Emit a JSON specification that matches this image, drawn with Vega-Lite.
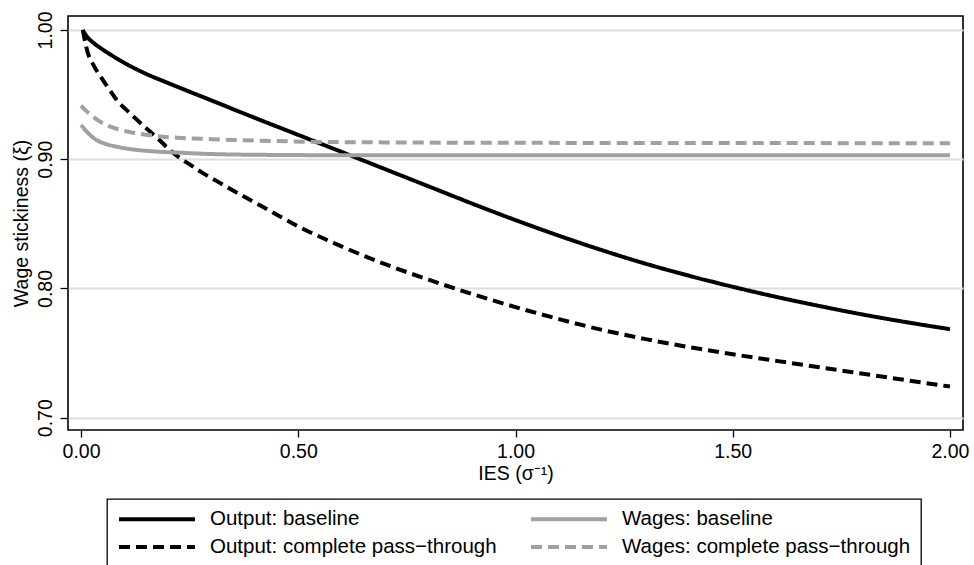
{
  "$schema": "https://vega.github.io/schema/vega-lite/v6.json",
  "autosize": {"type": "none"},
  "padding": {"left": 68, "top": 16, "right": 11, "bottom": 135},
  "width": 895,
  "height": 414,
  "background": "white",
  "config": {
    "font": "Liberation Sans",
    "view": {"stroke": "black", "strokeWidth": 1.6}
  },
  "data": {
    "values": [
      {"series": "Output: baseline", "ies": 0.004, "xi": 1.0},
      {"series": "Output: baseline", "ies": 0.012, "xi": 0.9955},
      {"series": "Output: baseline", "ies": 0.025, "xi": 0.991},
      {"series": "Output: baseline", "ies": 0.045, "xi": 0.986},
      {"series": "Output: baseline", "ies": 0.07, "xi": 0.9805},
      {"series": "Output: baseline", "ies": 0.1, "xi": 0.9745},
      {"series": "Output: baseline", "ies": 0.15, "xi": 0.966},
      {"series": "Output: baseline", "ies": 0.2, "xi": 0.959},
      {"series": "Output: baseline", "ies": 0.3, "xi": 0.9455},
      {"series": "Output: baseline", "ies": 0.4, "xi": 0.932},
      {"series": "Output: baseline", "ies": 0.5, "xi": 0.9188},
      {"series": "Output: baseline", "ies": 0.6, "xi": 0.9056},
      {"series": "Output: baseline", "ies": 0.7, "xi": 0.8923},
      {"series": "Output: baseline", "ies": 0.8, "xi": 0.879},
      {"series": "Output: baseline", "ies": 0.9, "xi": 0.8657},
      {"series": "Output: baseline", "ies": 1.0, "xi": 0.8529},
      {"series": "Output: baseline", "ies": 1.1, "xi": 0.8408},
      {"series": "Output: baseline", "ies": 1.2, "xi": 0.8295},
      {"series": "Output: baseline", "ies": 1.3, "xi": 0.8191},
      {"series": "Output: baseline", "ies": 1.4, "xi": 0.8098},
      {"series": "Output: baseline", "ies": 1.5, "xi": 0.8013},
      {"series": "Output: baseline", "ies": 1.6, "xi": 0.7935},
      {"series": "Output: baseline", "ies": 1.7, "xi": 0.7864},
      {"series": "Output: baseline", "ies": 1.8, "xi": 0.7798},
      {"series": "Output: baseline", "ies": 1.9, "xi": 0.7739},
      {"series": "Output: baseline", "ies": 2.0, "xi": 0.7685},
      {"series": "Output: complete pass−through", "ies": 0.004, "xi": 1.0},
      {"series": "Output: complete pass−through", "ies": 0.015, "xi": 0.983},
      {"series": "Output: complete pass−through", "ies": 0.03, "xi": 0.972},
      {"series": "Output: complete pass−through", "ies": 0.047, "xi": 0.963},
      {"series": "Output: complete pass−through", "ies": 0.065, "xi": 0.954},
      {"series": "Output: complete pass−through", "ies": 0.085, "xi": 0.9446},
      {"series": "Output: complete pass−through", "ies": 0.105, "xi": 0.938},
      {"series": "Output: complete pass−through", "ies": 0.124, "xi": 0.932},
      {"series": "Output: complete pass−through", "ies": 0.15, "xi": 0.924},
      {"series": "Output: complete pass−through", "ies": 0.177, "xi": 0.916},
      {"series": "Output: complete pass−through", "ies": 0.2, "xi": 0.9085},
      {"series": "Output: complete pass−through", "ies": 0.223, "xi": 0.902},
      {"series": "Output: complete pass−through", "ies": 0.25, "xi": 0.896},
      {"series": "Output: complete pass−through", "ies": 0.277, "xi": 0.89},
      {"series": "Output: complete pass−through", "ies": 0.3, "xi": 0.8855},
      {"series": "Output: complete pass−through", "ies": 0.354, "xi": 0.875},
      {"series": "Output: complete pass−through", "ies": 0.4, "xi": 0.8665},
      {"series": "Output: complete pass−through", "ies": 0.43, "xi": 0.861},
      {"series": "Output: complete pass−through", "ies": 0.5, "xi": 0.848},
      {"series": "Output: complete pass−through", "ies": 0.6, "xi": 0.8325},
      {"series": "Output: complete pass−through", "ies": 0.7, "xi": 0.8188},
      {"series": "Output: complete pass−through", "ies": 0.8, "xi": 0.8068},
      {"series": "Output: complete pass−through", "ies": 0.9, "xi": 0.7957},
      {"series": "Output: complete pass−through", "ies": 1.0, "xi": 0.7856},
      {"series": "Output: complete pass−through", "ies": 1.1, "xi": 0.7763},
      {"series": "Output: complete pass−through", "ies": 1.2, "xi": 0.7679},
      {"series": "Output: complete pass−through", "ies": 1.3, "xi": 0.7608},
      {"series": "Output: complete pass−through", "ies": 1.4, "xi": 0.7546},
      {"series": "Output: complete pass−through", "ies": 1.5, "xi": 0.7491},
      {"series": "Output: complete pass−through", "ies": 1.6, "xi": 0.744},
      {"series": "Output: complete pass−through", "ies": 1.7, "xi": 0.739},
      {"series": "Output: complete pass−through", "ies": 1.8, "xi": 0.734},
      {"series": "Output: complete pass−through", "ies": 1.9, "xi": 0.729},
      {"series": "Output: complete pass−through", "ies": 2.0, "xi": 0.7241},
      {"series": "Wages: baseline", "ies": 0.0, "xi": 0.9265},
      {"series": "Wages: baseline", "ies": 0.01, "xi": 0.9225},
      {"series": "Wages: baseline", "ies": 0.02, "xi": 0.919},
      {"series": "Wages: baseline", "ies": 0.035, "xi": 0.915},
      {"series": "Wages: baseline", "ies": 0.055, "xi": 0.912},
      {"series": "Wages: baseline", "ies": 0.085, "xi": 0.9095},
      {"series": "Wages: baseline", "ies": 0.12, "xi": 0.9075},
      {"series": "Wages: baseline", "ies": 0.17, "xi": 0.906},
      {"series": "Wages: baseline", "ies": 0.23, "xi": 0.905},
      {"series": "Wages: baseline", "ies": 0.3, "xi": 0.904},
      {"series": "Wages: baseline", "ies": 0.45, "xi": 0.9033},
      {"series": "Wages: baseline", "ies": 0.7, "xi": 0.903},
      {"series": "Wages: baseline", "ies": 1.0, "xi": 0.903},
      {"series": "Wages: baseline", "ies": 1.5, "xi": 0.903},
      {"series": "Wages: baseline", "ies": 2.0, "xi": 0.903},
      {"series": "Wages: complete pass−through", "ies": 0.0, "xi": 0.9415},
      {"series": "Wages: complete pass−through", "ies": 0.01, "xi": 0.938},
      {"series": "Wages: complete pass−through", "ies": 0.02, "xi": 0.935},
      {"series": "Wages: complete pass−through", "ies": 0.035, "xi": 0.931},
      {"series": "Wages: complete pass−through", "ies": 0.055, "xi": 0.927},
      {"series": "Wages: complete pass−through", "ies": 0.085, "xi": 0.9232},
      {"series": "Wages: complete pass−through", "ies": 0.12, "xi": 0.9205},
      {"series": "Wages: complete pass−through", "ies": 0.17, "xi": 0.918},
      {"series": "Wages: complete pass−through", "ies": 0.23, "xi": 0.9165},
      {"series": "Wages: complete pass−through", "ies": 0.3, "xi": 0.9155},
      {"series": "Wages: complete pass−through", "ies": 0.45, "xi": 0.914},
      {"series": "Wages: complete pass−through", "ies": 0.7, "xi": 0.913},
      {"series": "Wages: complete pass−through", "ies": 1.0, "xi": 0.9127},
      {"series": "Wages: complete pass−through", "ies": 1.5, "xi": 0.9125},
      {"series": "Wages: complete pass−through", "ies": 2.0, "xi": 0.9124}
    ]
  },
  "mark": {"type": "line", "strokeWidth": 4, "interpolate": "monotone", "clip": true},
  "encoding": {
    "x": {
      "field": "ies",
      "type": "quantitative",
      "scale": {"domain": [-0.03, 2.03], "nice": false, "zero": false},
      "axis": {
        "values": [0, 0.5, 1, 1.5, 2],
        "format": ".2f",
        "domain": false,
        "grid": false,
        "tickSize": 7,
        "tickColor": "black",
        "tickWidth": 1.3,
        "labelFontSize": 19.5,
        "labelColor": "black",
        "labelPadding": 5,
        "labelFlush": false,
        "title": "IES (σ⁻¹)",
        "titleFontSize": 19.5,
        "titleFontWeight": "normal",
        "titleColor": "black",
        "titleBaseline": "alphabetic",
        "titleX": 447.5,
        "titleY": 49
      }
    },
    "y": {
      "field": "xi",
      "type": "quantitative",
      "scale": {"domain": [0.6905, 1.0108], "nice": false, "zero": false},
      "axis": {
        "values": [0.7, 0.8, 0.9, 1.0],
        "format": ".2f",
        "domain": false,
        "grid": true,
        "gridColor": "#dedede",
        "gridWidth": 2,
        "tickSize": 8,
        "tickColor": "black",
        "tickWidth": 1.3,
        "labelAngle": -90,
        "labelAlign": "center",
        "labelBaseline": "alphabetic",
        "labelPadding": 9,
        "labelFontSize": 19.5,
        "labelColor": "black",
        "labelFlush": false,
        "title": "Wage stickiness (ξ)",
        "titleFontSize": 19.5,
        "titleFontWeight": "normal",
        "titleColor": "black",
        "titleAngle": -90,
        "titleAlign": "center",
        "titleBaseline": "alphabetic",
        "titleX": -41,
        "titleY": 207
      }
    },
    "color": {
      "field": "series",
      "type": "nominal",
      "scale": {
        "domain": ["Output: baseline", "Output: complete pass−through", "Wages: baseline", "Wages: complete pass−through"],
        "range": ["#000000", "#000000", "#a0a0a0", "#a0a0a0"]
      },
      "legend": {
        "title": null,
        "orient": "none",
        "legendX": 39,
        "legendY": 483,
        "columns": 2,
        "columnPadding": 32,
        "rowPadding": 7,
        "clipHeight": 20,
        "symbolType": "stroke",
        "symbolSize": 5776,
        "symbolStrokeWidth": 4,
        "labelFontSize": 20.5,
        "labelColor": "black",
        "labelOffset": 13,
        "labelLimit": 400,
        "padding": 10,
        "strokeColor": "black",
        "fillColor": "white",
        "encode": {"legend": {"update": {"strokeWidth": {"value": 1.3}}}}
      }
    },
    "strokeDash": {
      "field": "series",
      "type": "nominal",
      "scale": {
        "domain": ["Output: baseline", "Output: complete pass−through", "Wages: baseline", "Wages: complete pass−through"],
        "range": [[1, 0], [11, 6], [1, 0], [11, 6]]
      },
      "legend": {
        "title": null,
        "orient": "none",
        "legendX": 39,
        "legendY": 483,
        "columns": 2,
        "columnPadding": 32,
        "rowPadding": 7,
        "clipHeight": 20,
        "symbolType": "stroke",
        "symbolSize": 5776,
        "symbolStrokeWidth": 4,
        "labelFontSize": 20.5,
        "labelColor": "black",
        "labelOffset": 13,
        "labelLimit": 400,
        "padding": 10,
        "strokeColor": "black",
        "fillColor": "white",
        "encode": {"legend": {"update": {"strokeWidth": {"value": 1.3}}}}
      }
    }
  }
}
